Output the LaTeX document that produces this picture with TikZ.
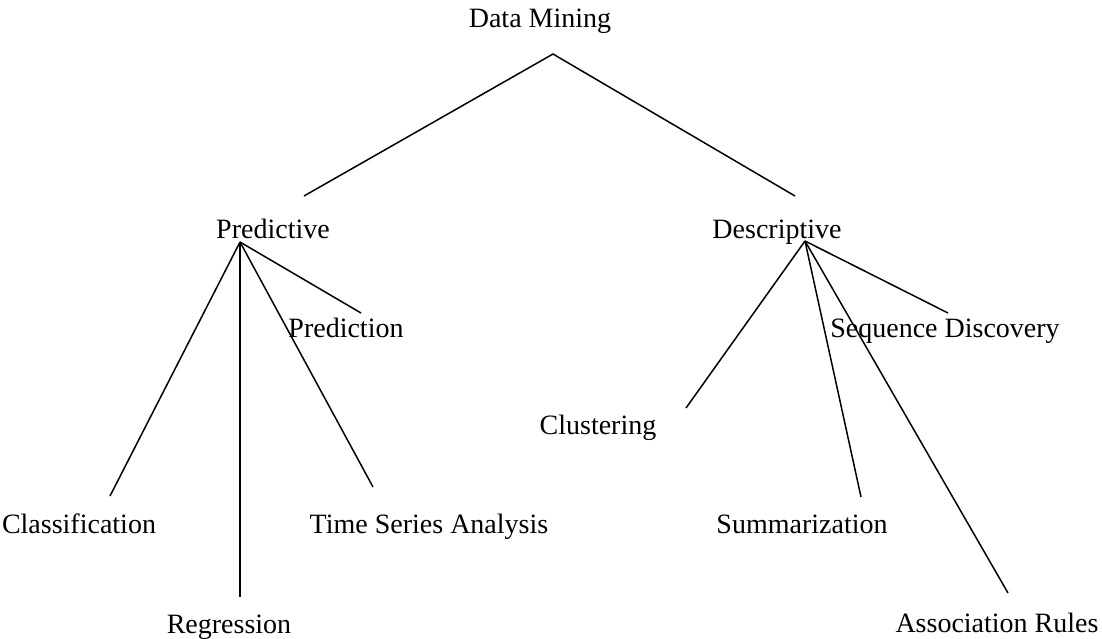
\documentclass[tikz,border=0pt]{standalone}
\usepackage{fontspec}
\setmainfont{Liberation Serif}
\begin{document}
\begin{tikzpicture}[x=1pt,y=-1pt,
				every node/.style={inner sep=0pt,anchor=base,font=\fontsize{28}{34}\selectfont},
				branch/.style={line width=1.5pt}]
\useasboundingbox (0,0) rectangle (1102,638);
% labels
\node (dm) at (540,27) {Data Mining};
\node (pr) at (273,238) {Predictive};
\node (de) at (777,238) {Descriptive};
\node (pn) at (346,337) {Prediction};
\node (cf) at (79,533) {Classification};
\node (rg) at (229,633) {Regression};
\node (ts) at (429,533) {Time Series Analysis};
\node (sq) at (945,337) {Sequence Discovery};
\node (cl) at (598,434) {Clustering};
\node (sm) at (802,533) {Summarization};
\node (ar) at (997,632) {Association Rules};
% line ends
\coordinate (dm-fork) at (553,54);
\coordinate (pr-top) at (304,196);
\coordinate (de-top) at (795,196);
\coordinate (pr-fork) at (240,242);
\coordinate (pn-top) at (361,313);
\coordinate (cf-top) at (110,496);
\coordinate (rg-top) at (240,597);
\coordinate (ts-top) at (373,487);
\coordinate (de-fork) at (805,241);
\coordinate (sq-top) at (948,313);
\coordinate (cl-top) at (686,408);
\coordinate (sm-top) at (861,497);
\coordinate (ar-top) at (1008,593);
% branches
\draw[branch] (pr-top) -- (dm-fork) -- (de-top);
\draw[branch] (pr-fork) -- (cf-top);
\draw[branch] (pr-fork) -- (rg-top);
\draw[branch] (pr-fork) -- (ts-top);
\draw[branch] (pr-fork) -- (pn-top);
\draw[branch] (de-fork) -- (cl-top);
\draw[branch] (de-fork) -- (sm-top);
\draw[branch] (de-fork) -- (ar-top);
\draw[branch] (de-fork) -- (sq-top);
\end{tikzpicture}
\end{document}
